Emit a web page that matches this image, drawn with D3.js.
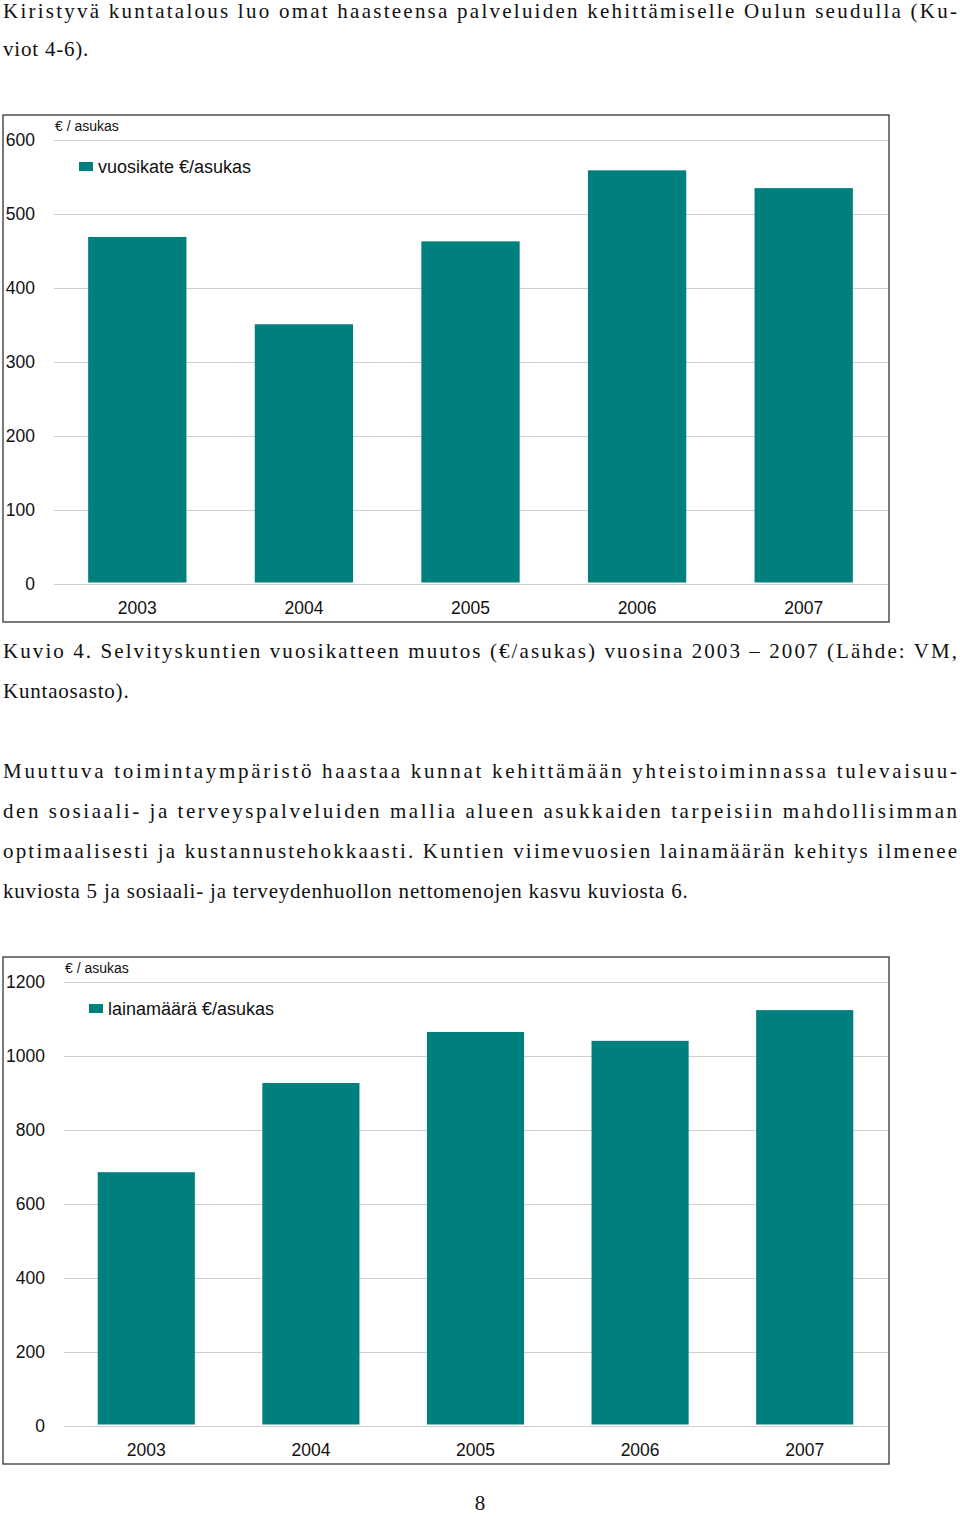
<!DOCTYPE html>
<html><head><meta charset="utf-8">
<script src="https://cdn.jsdelivr.net/npm/d3@7"></script>
<style>
body{margin:0;background:#fff;}
svg{display:block;}
</style></head>
<body>
<svg id="page" width="960" height="1516"></svg>
<script>
const years = ["2003", "2004", "2005", "2006", "2007"];
const vuosikate = [469, 351, 463, 559, 535];
const lainamaara = [686, 927, 1065, 1041, 1124];
const ticks1 = [0, 100, 200, 300, 400, 500, 600];
const ticks2 = [0, 200, 400, 600, 800, 1000, 1200];
const legend1 = "vuosikate €/asukas";
const legend2 = "lainamäärä €/asukas";
const unitLabel = "€ / asukas";

const textLines = [
  {t: "Kiristyvä kuntatalous luo omat haasteensa palveluiden kehittämiselle Oulun seudulla (Ku-", y: 18, j: true},
  {t: "viot 4-6).", y: 56, j: false},
  {t: "Kuvio 4. Selvityskuntien vuosikatteen muutos (€/asukas) vuosina 2003 – 2007 (Lähde: VM,", y: 658, j: true},
  {t: "Kuntaosasto).", y: 698, j: false},
  {t: "Muuttuva toimintaympäristö haastaa kunnat kehittämään yhteistoiminnassa tulevaisuu-", y: 778, j: true},
  {t: "den sosiaali- ja terveyspalveluiden mallia alueen asukkaiden tarpeisiin mahdollisimman", y: 818, j: true},
  {t: "optimaalisesti ja kustannustehokkaasti. Kuntien viimevuosien lainamäärän kehitys ilmenee", y: 858, j: true},
  {t: "kuviosta 5 ja sosiaali- ja terveydenhuollon nettomenojen kasvu kuviosta 6.", y: 898, j: false}
];

const svg = d3.select("#page");
const TEAL = "#007f7f";

// body text
const tg = svg.append("g").attr("font-family", "'Liberation Serif', 'DejaVu Serif', serif")
  .attr("font-size", 21).attr("fill", "#111");
textLines.forEach(l => {
  const el = tg.append("text").attr("x", 3).attr("y", l.y).text(l.t);
  if (l.j) el.attr("textLength", 954).attr("lengthAdjust", "spacing");
  else el.attr("letter-spacing", 0.8);
});
tg.append("text").attr("x", 480).attr("y", 1510).attr("text-anchor", "middle").text("8");

function drawChart(cfg) {
  const g = svg.append("g").attr("font-family", "'Liberation Sans', Arial, sans-serif").attr("fill", "#111");
  g.append("rect").attr("x", cfg.fx).attr("y", cfg.fy).attr("width", cfg.fw).attr("height", cfg.fh)
    .attr("fill", "none").attr("stroke", "#333").attr("stroke-width", 1.3);

  const x = d3.scaleBand().domain(years).range([cfg.left, cfg.right]).paddingInner(0.41).paddingOuter(0.205);
  const y = d3.scaleLinear().domain([0, cfg.max]).range([cfg.zeroY, cfg.topY]);

  const ya = g.append("g").attr("transform", `translate(${cfg.left},0)`)
    .call(d3.axisLeft(y).tickValues(cfg.ticks).tickFormat(d3.format("d"))
      .tickSize(-(cfg.right + 1 - cfg.left)).tickPadding(cfg.left - cfg.labelX));
  ya.select(".domain").remove();
  ya.selectAll(".tick line").attr("stroke", "#cfcfcf").attr("stroke-width", 1.2);
  ya.selectAll(".tick text").attr("font-size", 17.5).attr("fill", "#111")
    .attr("font-family", "'Liberation Sans', Arial, sans-serif");

  g.selectAll("rect.bar").data(cfg.values).join("rect").attr("class", "bar")
    .attr("x", (d, i) => x(years[i])).attr("width", x.bandwidth())
    .attr("y", d => y(d)).attr("height", d => y(0) - 1.5 - y(d))
    .attr("fill", TEAL);

  const xa = g.append("g").attr("transform", `translate(0,${cfg.zeroY})`)
    .call(d3.axisBottom(x).tickSize(0).tickPadding(18));
  xa.select(".domain").remove();
  xa.selectAll(".tick text").attr("font-size", 17.5).attr("fill", "#111")
    .attr("font-family", "'Liberation Sans', Arial, sans-serif");

  g.append("text").attr("x", cfg.left + 1).attr("y", cfg.fy + 16).attr("font-size", 14).text(unitLabel);
  g.append("rect").attr("x", cfg.legX).attr("y", cfg.legY - 5).attr("width", 14).attr("height", 9).attr("fill", TEAL);
  g.append("text").attr("x", cfg.legX + 19).attr("y", cfg.legY + 6).attr("font-size", 18).text(cfg.legend);
}

drawChart({fx: 3, fy: 115, fw: 886, fh: 507, left: 54, right: 887, labelX: 35,
  zeroY: 584, topY: 140, max: 600, ticks: ticks1, values: vuosikate,
  legX: 79, legY: 167, legend: legend1});
drawChart({fx: 3, fy: 957, fw: 886, fh: 507, left: 64, right: 887, labelX: 45,
  zeroY: 1426, topY: 982, max: 1200, ticks: ticks2, values: lainamaara,
  legX: 89, legY: 1009, legend: legend2});
</script>
</body></html>
